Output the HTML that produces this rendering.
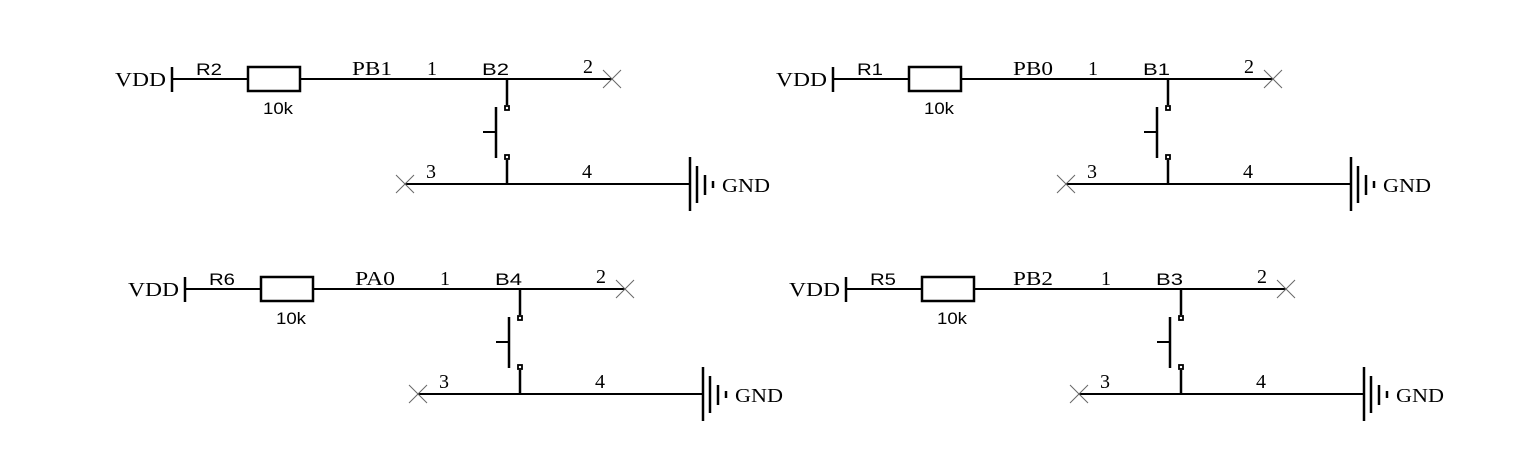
<!DOCTYPE html>
<html><head><meta charset="utf-8"><style>
html,body{margin:0;padding:0;background:#fff;}
svg{display:block;}
.s{font-family:"Liberation Serif",serif;font-size:20px;fill:#000;}
.a{font-family:"Liberation Sans",sans-serif;font-size:17px;fill:#000;}
</style></head><body>
<svg width="1536" height="463" viewBox="0 0 1536 463" xmlns="http://www.w3.org/2000/svg">
<defs>
<g id="blk">
 <g stroke="#000" fill="none" stroke-width="2">
  <line x1="172" y1="67" x2="172" y2="92" stroke-width="2.5"/>
  <line x1="172" y1="79" x2="248" y2="79"/>
  <rect x="248" y="67" width="52" height="24" stroke-width="2.5"/>
  <line x1="300" y1="79" x2="612" y2="79"/>
  <line x1="507" y1="79" x2="507" y2="105" stroke-width="2.5"/>
  <rect x="505" y="106" width="4" height="4" stroke-width="1.8"/>
  <line x1="496" y1="107" x2="496" y2="158" stroke-width="2.5"/>
  <line x1="483" y1="132" x2="496" y2="132"/>
  <rect x="505" y="155" width="4" height="4" stroke-width="1.8"/>
  <line x1="507" y1="160" x2="507" y2="184" stroke-width="2.5"/>
  <line x1="405" y1="184" x2="690" y2="184"/>
  <line x1="690" y1="157" x2="690" y2="211" stroke-width="2.5"/>
  <line x1="697" y1="166" x2="697" y2="203" stroke-width="2.5"/>
  <line x1="705" y1="175" x2="705" y2="195" stroke-width="2.5"/>
  <line x1="713" y1="181" x2="713" y2="188" stroke-width="2.5"/>
 </g>
 <g stroke="#666" stroke-width="1" fill="none">
  <line x1="603" y1="70" x2="621" y2="88"/><line x1="603" y1="88" x2="621" y2="70"/>
  <line x1="396" y1="175" x2="414" y2="193"/><line x1="396" y1="193" x2="414" y2="175"/>
 </g>
</g>
</defs>
<g>
 <use href="#blk"/>
 <text class="s" x="115" y="86" textLength="51" lengthAdjust="spacingAndGlyphs">VDD</text><text class="a" x="196" y="75" textLength="26" lengthAdjust="spacingAndGlyphs">R2</text><text class="a" x="263" y="114" textLength="30" lengthAdjust="spacingAndGlyphs">10k</text>
 <text class="s" x="352" y="75" textLength="40" lengthAdjust="spacingAndGlyphs">PB1</text><text class="s" x="427" y="75">1</text><text class="a" x="482" y="75" textLength="27" lengthAdjust="spacingAndGlyphs">B2</text><text class="s" x="583" y="73">2</text>
 <text class="s" x="426" y="178">3</text><text class="s" x="582" y="178">4</text><text class="s" x="722" y="192" textLength="48" lengthAdjust="spacingAndGlyphs">GND</text>
</g>
<g transform="translate(661,0)">
 <use href="#blk"/>
 <text class="s" x="115" y="86" textLength="51" lengthAdjust="spacingAndGlyphs">VDD</text><text class="a" x="196" y="75" textLength="26" lengthAdjust="spacingAndGlyphs">R1</text><text class="a" x="263" y="114" textLength="30" lengthAdjust="spacingAndGlyphs">10k</text>
 <text class="s" x="352" y="75" textLength="40" lengthAdjust="spacingAndGlyphs">PB0</text><text class="s" x="427" y="75">1</text><text class="a" x="482" y="75" textLength="27" lengthAdjust="spacingAndGlyphs">B1</text><text class="s" x="583" y="73">2</text>
 <text class="s" x="426" y="178">3</text><text class="s" x="582" y="178">4</text><text class="s" x="722" y="192" textLength="48" lengthAdjust="spacingAndGlyphs">GND</text>
</g>
<g transform="translate(13,210)">
 <use href="#blk"/>
 <text class="s" x="115" y="86" textLength="51" lengthAdjust="spacingAndGlyphs">VDD</text><text class="a" x="196" y="75" textLength="26" lengthAdjust="spacingAndGlyphs">R6</text><text class="a" x="263" y="114" textLength="30" lengthAdjust="spacingAndGlyphs">10k</text>
 <text class="s" x="342" y="75" textLength="40" lengthAdjust="spacingAndGlyphs">PA0</text><text class="s" x="427" y="75">1</text><text class="a" x="482" y="75" textLength="27" lengthAdjust="spacingAndGlyphs">B4</text><text class="s" x="583" y="73">2</text>
 <text class="s" x="426" y="178">3</text><text class="s" x="582" y="178">4</text><text class="s" x="722" y="192" textLength="48" lengthAdjust="spacingAndGlyphs">GND</text>
</g>
<g transform="translate(674,210)">
 <use href="#blk"/>
 <text class="s" x="115" y="86" textLength="51" lengthAdjust="spacingAndGlyphs">VDD</text><text class="a" x="196" y="75" textLength="26" lengthAdjust="spacingAndGlyphs">R5</text><text class="a" x="263" y="114" textLength="30" lengthAdjust="spacingAndGlyphs">10k</text>
 <text class="s" x="339" y="75" textLength="40" lengthAdjust="spacingAndGlyphs">PB2</text><text class="s" x="427" y="75">1</text><text class="a" x="482" y="75" textLength="27" lengthAdjust="spacingAndGlyphs">B3</text><text class="s" x="583" y="73">2</text>
 <text class="s" x="426" y="178">3</text><text class="s" x="582" y="178">4</text><text class="s" x="722" y="192" textLength="48" lengthAdjust="spacingAndGlyphs">GND</text>
</g>
</svg>
</body></html>
